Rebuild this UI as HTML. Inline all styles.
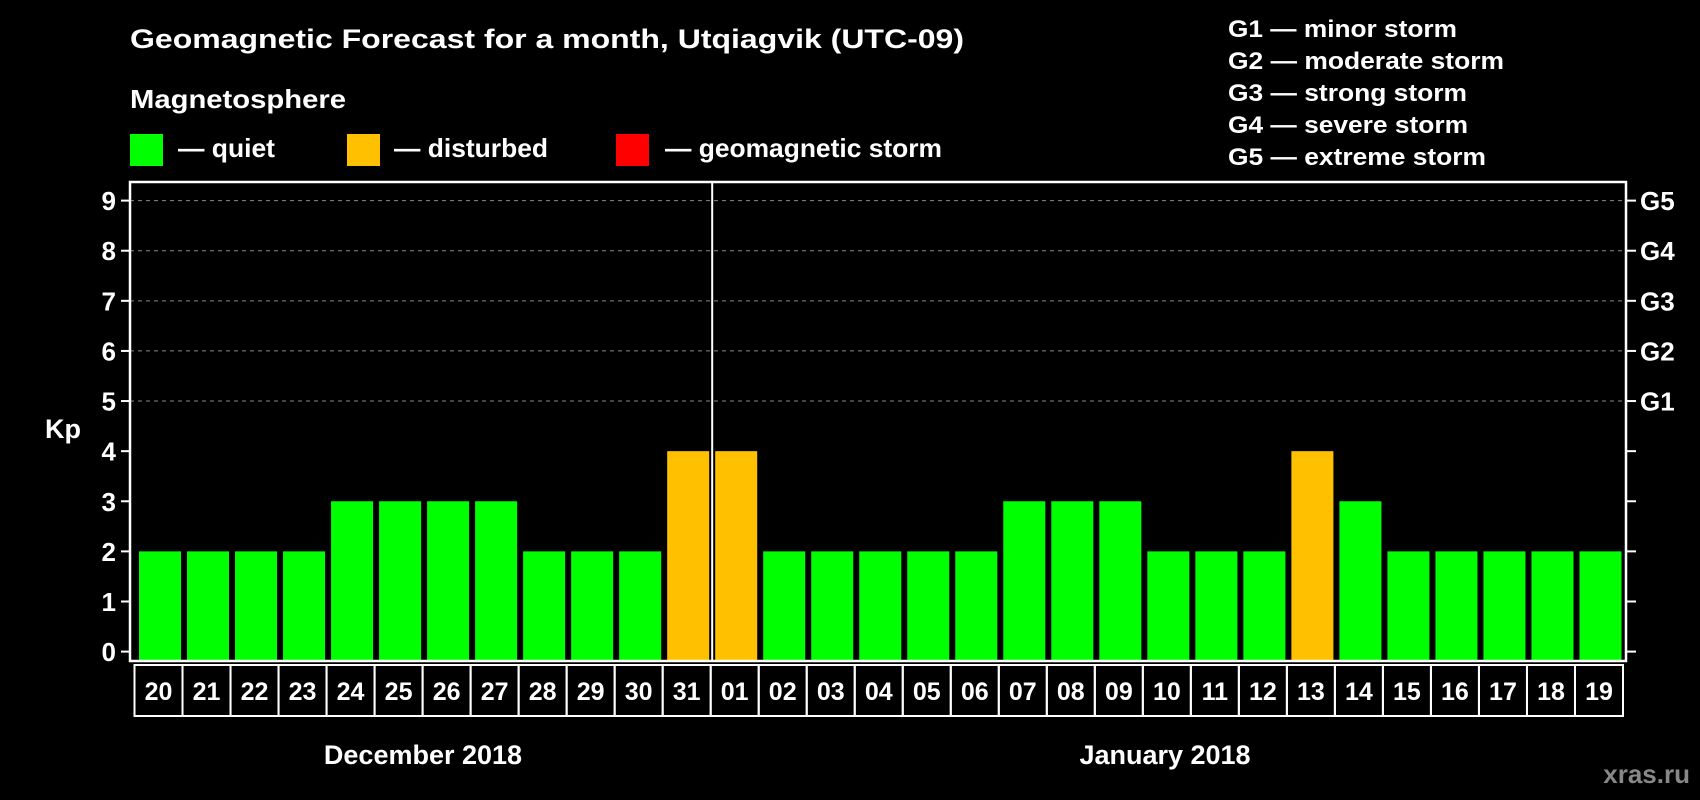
<!DOCTYPE html>
<html><head><meta charset="utf-8"><style>
html,body{margin:0;padding:0;background:#000;}
svg{display:block;font-family:"Liberation Sans",Arial,sans-serif;font-weight:bold;}
</style></head><body>
<svg id="chart" width="1700" height="800" viewBox="0 0 1700 800" xmlns="http://www.w3.org/2000/svg">
<rect width="1700" height="800" fill="#000"/>
<text x="130" y="48" font-size="27" fill="#fff" textLength="834" lengthAdjust="spacingAndGlyphs">Geomagnetic Forecast for a month, Utqiagvik (UTC-09)</text>
<text x="130" y="108" font-size="26" fill="#fff" textLength="216" lengthAdjust="spacingAndGlyphs">Magnetosphere</text>
<g>
<rect x="130" y="134" width="33" height="32" fill="#00ff00"/>
<text x="178" y="157" font-size="26" fill="#fff" textLength="97" lengthAdjust="spacingAndGlyphs">— quiet</text></g>
<g>
<rect x="347" y="134" width="33" height="32" fill="#ffc000"/>
<text x="394" y="157" font-size="26" fill="#fff" textLength="154" lengthAdjust="spacingAndGlyphs">— disturbed</text></g>
<g>
<rect x="616" y="134" width="33" height="32" fill="#ff0000"/>
<text x="665" y="157" font-size="26" fill="#fff" textLength="277" lengthAdjust="spacingAndGlyphs">— geomagnetic storm</text></g>
<g font-size="24" fill="#fff">
<text x="1228" y="37" textLength="229" lengthAdjust="spacingAndGlyphs">G1 — minor storm</text>
<text x="1228" y="69" textLength="276" lengthAdjust="spacingAndGlyphs">G2 — moderate storm</text>
<text x="1228" y="101" textLength="239" lengthAdjust="spacingAndGlyphs">G3 — strong storm</text>
<text x="1228" y="133" textLength="240" lengthAdjust="spacingAndGlyphs">G4 — severe storm</text>
<text x="1228" y="165" textLength="258" lengthAdjust="spacingAndGlyphs">G5 — extreme storm</text>
</g>
<g id="plot"></g>
<text x="63" y="438" font-size="27" fill="#fff" text-anchor="middle">Kp</text>
<text x="423" y="764" font-size="27" fill="#fff" text-anchor="middle">December 2018</text>
<text x="1165" y="764" font-size="27" fill="#fff" text-anchor="middle">January 2018</text>
<text x="1690" y="783" font-size="26" fill="#888" text-anchor="end">xras.ru</text>
</svg>
<script>
const days = ["20","21","22","23","24","25","26","27","28","29","30","31","01","02","03","04","05","06","07","08","09","10","11","12","13","14","15","16","17","18","19"];
const kpValues = [2,2,2,2,3,3,3,3,2,2,2,4,4,2,2,2,2,2,3,3,3,2,2,2,4,3,2,2,2,2,2];
const yTicks = ["0","1","2","3","4","5","6","7","8","9"];
const gLabels = ["G1","G2","G3","G4","G5"];
const monthBreakIndex = 12;

const NS="http://www.w3.org/2000/svg";
const g=document.getElementById('plot');
const L=130,R=1626,T=182,B=661,Y0=651.6,Y9=200.6;
const x0=134.5,pitch=(1623-134.5)/days.length;
function yScale(v){return Y0+(Y9-Y0)*v/9;}
function xScale(i){return x0+i*pitch;}
function mk(tag,attrs,parent){const e=document.createElementNS(NS,tag);for(const k in attrs)e.setAttribute(k,attrs[k]);(parent||g).appendChild(e);return e;}

// gridlines 5..9
for(let v=5;v<=9;v++){
  const ln=mk('line',{x1:L,x2:R,y1:yScale(v),y2:yScale(v),stroke:'#888','stroke-width':1,'stroke-dasharray':'4,4'});
  
  
}
// bars
kpValues.forEach((v,i)=>{
  const c=v>=5?'#ff0000':(v>=4?'#ffc000':'#00ff00');
  const r=mk('rect',{x:xScale(i)+4.5,y:yScale(v),width:pitch-6,height:B-yScale(v),fill:c});
  
  
});
// plot frame
const fr=mk('rect',{x:L,y:T,width:R-L,height:B-T,fill:'none',stroke:'#fff','stroke-width':2.5});


// divider
const dv=mk('line',{x1:xScale(monthBreakIndex)+1.5,x2:xScale(monthBreakIndex)+1.5,y1:T,y2:B,stroke:'#fff','stroke-width':2});


// y ticks & labels
yTicks.forEach((t,i)=>{
  const y=yScale(i);
  mk('line',{x1:L-9,x2:L,y1:y,y2:y,stroke:'#fff','stroke-width':2});
  mk('line',{x1:R,x2:R+10,y1:y,y2:y,stroke:'#fff','stroke-width':2});
  const tx=mk('text',{x:116,y:y+9.5,'font-size':26,fill:'#fff','text-anchor':'end'});
  tx.textContent=t;
  
  
});
gLabels.forEach((t,i)=>{
  const tx=mk('text',{x:1640,y:yScale(5+i)+9.5,'font-size':26,fill:'#fff'});
  tx.textContent=t;
  
  
});
// day label boxes
days.forEach((d,i)=>{
  const bx=mk('rect',{x:xScale(i),y:665,width:pitch,height:51,fill:'none',stroke:'#fff','stroke-width':2});
  
  
  const tx=mk('text',{x:xScale(i)+pitch/2,y:700,'font-size':25,fill:'#fff','text-anchor':'middle'});
  tx.textContent=d;
  
  
});
</script>
</body></html>
